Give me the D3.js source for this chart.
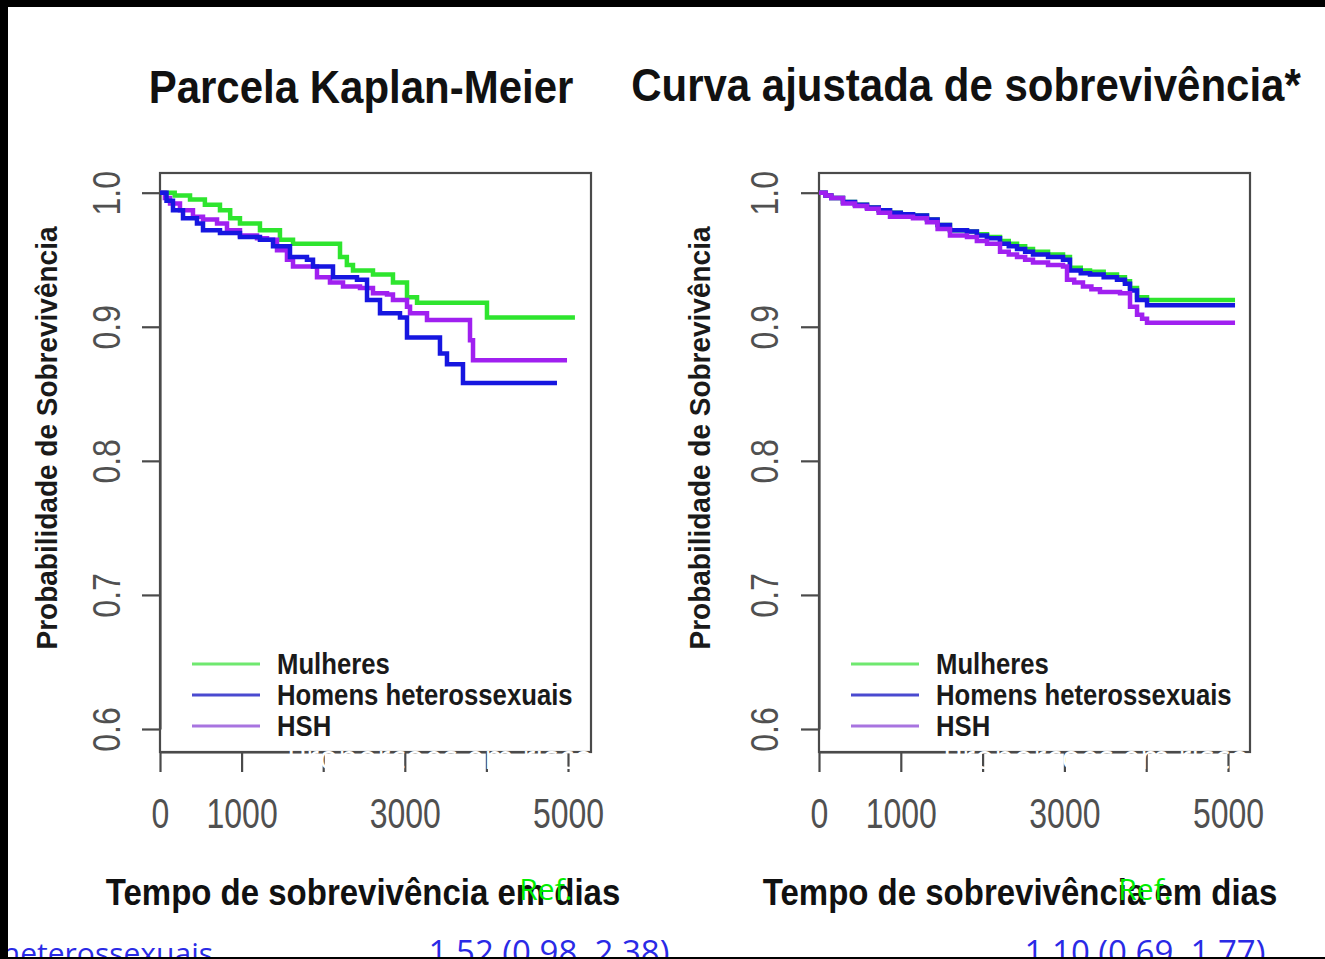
<!DOCTYPE html>
<html><head><meta charset="utf-8">
<script src="https://cdn.jsdelivr.net/npm/d3@7"></script>
<style>
html,body{margin:0;padding:0;background:#fff;}
svg{display:block;}
</style></head>
<body>
<svg id="c" width="1325" height="959"></svg>
<script>
// ---------- DATA ----------
const titles = ["Parcela Kaplan-Meier", "Curva ajustada de sobrevivência*"];
const yLabel = "Probabilidade de Sobrevivência";
const xLabel = "Tempo de sobrevivência em dias";
const groups = ["Mulheres", "Homens heterossexuais", "HSH"];
const yTicks = [0.6, 0.7, 0.8, 0.9, 1.0];
const xTicks = [0, 1000, 2000, 3000, 4000, 5000];
const xTickLabels = ["0", "1000", "", "3000", "", "5000"];

// Kaplan-Meier (left)  [days, survival]
const kmMulheres = [[0,1.0],[180,0.998],[368,0.995],[550,0.991],[735,0.987],[860,0.981],[980,0.977],[1225,0.972],[1470,0.965],[1630,0.962],[2206,0.952],[2290,0.946],[2365,0.942],[2610,0.939],[2855,0.933],[3027,0.922],[3150,0.918],[4007,0.907],[5085,0.907]];
const kmHomens = [[0,1.0],[80,0.994],[159,0.987],[282,0.981],[453,0.977],[527,0.972],[735,0.970],[980,0.967],[1225,0.965],[1385,0.960],[1593,0.952],[1801,0.950],[1875,0.945],[2120,0.937],[2414,0.935],[2537,0.920],[2696,0.910],[2941,0.907],[3027,0.892],[3431,0.880],[3517,0.872],[3713,0.858],[4865,0.858]];
const kmHSH = [[0,1.0],[60,0.996],[123,0.992],[245,0.987],[404,0.982],[527,0.980],[699,0.977],[821,0.972],[980,0.968],[1189,0.966],[1311,0.965],[1434,0.957],[1556,0.950],[1630,0.945],[1924,0.937],[2083,0.933],[2243,0.930],[2451,0.929],[2610,0.925],[2782,0.924],[2855,0.920],[3027,0.915],[3064,0.910],[3272,0.905],[3799,0.890],[3836,0.875],[4988,0.875]];

// Adjusted survival (right)
const adjMulheres = [[0,1.0],[80,0.998],[150,0.996],[293,0.993],[440,0.991],[587,0.989],[730,0.987],[868,0.985],[1000,0.984],[1149,0.983],[1320,0.980],[1450,0.976],[1601,0.972],[1700,0.972],[1809,0.971],[1930,0.969],[2054,0.967],[2213,0.964],[2320,0.962],[2421,0.960],[2520,0.958],[2616,0.956],[2800,0.954],[2983,0.952],[3068,0.944],[3200,0.942],[3313,0.941],[3480,0.939],[3643,0.937],[3740,0.934],[3802,0.929],[3888,0.922],[4010,0.920],[5086,0.920]];
const adjHomens = [[0,1.0],[80,0.998],[150,0.996],[293,0.993],[440,0.991],[587,0.989],[730,0.987],[868,0.985],[1000,0.984],[1149,0.983],[1320,0.980],[1450,0.976],[1601,0.972],[1700,0.972],[1809,0.971],[1930,0.968],[2054,0.966],[2213,0.962],[2320,0.960],[2421,0.958],[2520,0.956],[2616,0.954],[2800,0.952],[2983,0.950],[3068,0.942],[3200,0.940],[3313,0.939],[3480,0.937],[3643,0.935],[3740,0.932],[3802,0.927],[3888,0.920],[4010,0.916],[5086,0.916]];
const adjHSH = [[0,1.0],[80,0.998],[150,0.996],[293,0.992],[440,0.990],[587,0.988],[730,0.985],[868,0.982],[1000,0.982],[1149,0.981],[1320,0.978],[1450,0.973],[1601,0.968],[1700,0.968],[1809,0.967],[1930,0.964],[2054,0.962],[2213,0.956],[2320,0.954],[2421,0.952],[2520,0.950],[2616,0.948],[2800,0.946],[2983,0.945],[3032,0.935],[3120,0.933],[3227,0.930],[3330,0.928],[3435,0.926],[3680,0.925],[3802,0.915],[3888,0.909],[3950,0.906],[4010,0.903],[5086,0.903]];

// Overlay slide text
const overlayRisk = "Proporções em risco";
const refLabel = "Ref.";
const bottomRow = ["heterossexuais", "1.52 (0.98, 2.38)", "1.10 (0.69, 1.77)"];

// ---------- DRAW ----------
const svg = d3.select("#c");
const colors = ["#2ee52e", "#1616e0", "#a020f0"];
const legendColors = ["#6fe86f", "#4a4ad0", "#a874e0"];
const panels = [
  {x0:160, x1:591, xEnd:568, series:[kmMulheres, kmHomens, kmHSH], order:[0,2,1], title:titles[0], titleX:361, titleY:103, yTitleX:57, yLabX:120, xTitleX:363, legX:192, refX:546, riskX:440},
  {x0:819, x1:1250, xEnd:1228, series:[adjMulheres, adjHomens, adjHSH], order:[0,1,2], title:titles[1], titleX:966, titleY:101, yTitleX:710, yLabX:778, xTitleX:1020, legX:851, refX:1145, riskX:1096}
];
const plotTop = 173, plotBottom = 752;
const font = "'Liberation Sans', Arial, sans-serif";
const slideFont = "'Open Sans', sans-serif";
const axisCol = "#4a4a4a";

panels.forEach(p => {
  const g = svg.append("g");
  const x = d3.scaleLinear().domain([0, 5000]).range([p.x0, p.xEnd]);
  const y = d3.scaleLinear().domain([0.6, 1.0]).range([729, 192.7]);

  // box
  g.append("rect").attr("x", p.x0).attr("y", plotTop).attr("width", p.x1 - p.x0).attr("height", plotBottom - plotTop)
    .attr("fill", "none").attr("stroke", axisCol).attr("stroke-width", 2.2);

  // y axis
  const ya = g.append("g").attr("transform", `translate(${p.x0},0)`)
    .call(d3.axisLeft(y).tickValues(yTicks).tickSize(18).tickSizeOuter(0).tickFormat(d3.format(".1f")));
  ya.select(".domain").attr("stroke", axisCol).attr("stroke-width", 2.2);
  ya.selectAll(".tick line").attr("stroke", axisCol).attr("stroke-width", 2.2);
  ya.selectAll(".tick text")
    .attr("dy", null)
    .attr("transform", `translate(${p.yLabX - p.x0},0) rotate(-90) scale(1,1.2)`)
    .attr("x", 0).attr("y", 0)
    .attr("text-anchor", "middle").attr("font-family", font).attr("font-size", 32).attr("fill", "#505050");

  // x axis
  const xa = g.append("g").attr("transform", `translate(0,${plotBottom})`)
    .call(d3.axisBottom(x).tickValues(xTicks).tickSize(20).tickSizeOuter(0)
      .tickFormat((d, i) => xTickLabels[i]));
  xa.select(".domain").attr("stroke", axisCol).attr("stroke-width", 2.2);
  xa.selectAll(".tick line").attr("stroke", axisCol).attr("stroke-width", 2.2);
  xa.selectAll(".tick text").attr("y", 0).attr("dy", null)
    .attr("transform", "translate(0,76) scale(1,1.3)")
    .attr("font-family", font).attr("font-size", 32).attr("fill", "#505050");

  // curves
  const line = d3.line().x(d => x(d[0])).y(d => y(d[1])).curve(d3.curveStepAfter);
  p.order.forEach(i => {
    g.append("path").datum(p.series[i]).attr("d", line)
      .attr("fill", "none").attr("stroke", colors[i]).attr("stroke-width", 4.5);
  });

  // legend
  groups.forEach((name, i) => {
    const ly = 664 + i * 31;
    g.append("line").attr("x1", p.legX).attr("x2", p.legX + 68).attr("y1", ly).attr("y2", ly)
      .attr("stroke", legendColors[i]).attr("stroke-width", 3);
    g.append("text").attr("transform", `translate(${p.legX + 85},${ly + 10}) scale(1,1.15)`).text(name)
      .attr("font-family", font).attr("font-weight", "bold").attr("font-size", 25.7).attr("fill", "#1a1a1a");
  });

  // titles
  g.append("text").attr("transform", `translate(${p.titleX},${p.titleY}) scale(1,1.1)`).attr("text-anchor", "middle").text(p.title)
    .attr("font-family", font).attr("font-weight", "bold").attr("font-size", 42).attr("fill", "#111");
  g.append("text").attr("transform", `translate(${p.yTitleX},438) rotate(-90) scale(1,1.05)`).attr("text-anchor", "middle")
    .text(yLabel).attr("font-family", font).attr("font-weight", "bold").attr("font-size", 28).attr("fill", "#1a1a1a");
  g.append("text").attr("transform", `translate(${p.xTitleX},905) scale(1,1.12)`).attr("text-anchor", "middle").text(xLabel)
    .attr("font-family", font).attr("font-weight", "bold").attr("font-size", 33).attr("fill", "#111");

  // overlay artifacts from the slide
  g.append("text").attr("x", p.riskX).attr("y", 769).attr("text-anchor", "middle").text(overlayRisk)
    .attr("font-family", slideFont).attr("font-size", 32).attr("fill", "#fff");
  g.append("text").attr("x", p.refX).attr("y", 900).attr("text-anchor", "middle").text(refLabel)
    .attr("font-family", slideFont).attr("font-size", 30).attr("fill", "#00ee00");
});

// slide frame
svg.append("rect").attr("x", 0).attr("y", 0).attr("width", 1325).attr("height", 7).attr("fill", "#000");

// bottom row text (cut off by the frame)
const bx = [213, 549, 1145];
const banchor = ["end", "middle", "middle"];
const bsize = [30, 33, 33];
bottomRow.forEach((t, i) => {
  svg.append("text").attr("x", bx[i]).attr("y", 964).attr("text-anchor", banchor[i]).text(t)
    .attr("font-family", slideFont).attr("font-size", bsize[i]).attr("fill", "#2a2ae6");
});
svg.append("rect").attr("x", 0).attr("y", 0).attr("width", 8).attr("height", 959).attr("fill", "#000");
svg.append("rect").attr("x", 0).attr("y", 957).attr("width", 1325).attr("height", 2).attr("fill", "#000");
</script>
</body></html>
